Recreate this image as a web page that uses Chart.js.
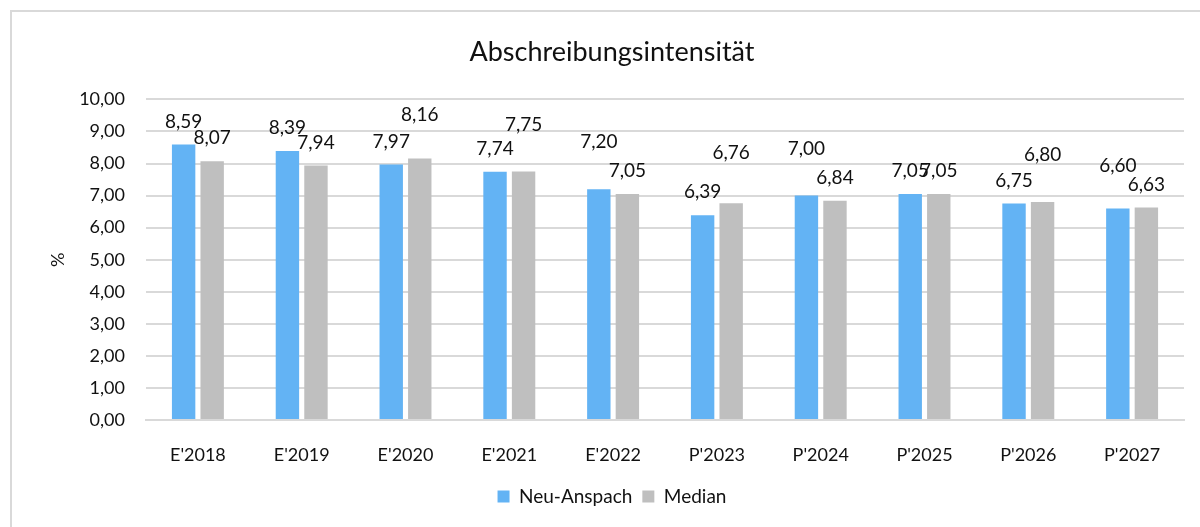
<!DOCTYPE html>
<html>
<head>
<meta charset="utf-8">
<script src="https://cdn.jsdelivr.net/npm/chart.js@4"></script>
<style>
  html, body { margin: 0; padding: 0; background: #fff; }
  #wrap { position: relative; width: 1200px; height: 527px; overflow: hidden; }
  #frame { position: absolute; left: 10px; top: 10px; width: 1300px; height: 600px;
           border-left: 2px solid #d9d9d9; border-top: 2px solid #d9d9d9; box-sizing: border-box; }
  canvas { position: absolute; left: 0; top: 0; }
</style>
</head>
<body>
<div id="wrap">
  <div id="frame"></div>
  <canvas id="chart" width="1200" height="527"></canvas>
</div>
<script>
const years = ["E'2018", "E'2019", "E'2020", "E'2021", "E'2022", "P'2023", "P'2024", "P'2025", "P'2026", "P'2027"];
const neuAnspach = [8.59, 8.39, 7.97, 7.74, 7.20, 6.39, 7.00, 7.05, 6.75, 6.60];
const median = [8.07, 7.94, 8.16, 7.75, 7.05, 6.76, 6.84, 7.05, 6.80, 6.63];
// extra lift (px) of some value labels, as placed in the original
const liftNeu = [0, 0, 0, 0, 24, 0, 24, 0, 0, 20];
const liftMedian = [0, 0, 21, 24, 0, 27, 0, 0, 24, 0];

const FONT = "Lato, 'Open Sans', sans-serif";
const fmt = v => v.toFixed(2).replace(".", ",");

const valueLabels = {
  id: "valueLabels",
  afterDatasetsDraw(chart) {
    const ctx = chart.ctx;
    ctx.save();
    ctx.font = "19px " + FONT;
    ctx.fillStyle = "#111";
    ctx.textAlign = "center";
    ctx.textBaseline = "middle";
    const lifts = [liftNeu, liftMedian];
    chart.data.datasets.forEach((ds, i) => {
      chart.getDatasetMeta(i).data.forEach((bar, j) => {
        ctx.fillText(fmt(ds.data[j]), bar.x, bar.y - 23 - lifts[i][j]);
      });
    });
    ctx.restore();
  }
};

new Chart(document.getElementById("chart").getContext("2d"), {
  type: "bar",
  data: {
    labels: years,
    datasets: [
      { label: "Neu-Anspach", data: neuAnspach, backgroundColor: "#63b3f4" },
      { label: "Median", data: median, backgroundColor: "#bfbfbf" }
    ]
  },
  options: {
    responsive: false,
    animation: false,
    categoryPercentage: 0.55,
    barPercentage: 0.82,
    layout: { padding: { left: 40, right: 16, top: 0, bottom: 11 } },
    plugins: {
      title: {
        display: true,
        text: "Abschreibungsintensität",
        color: "#111",
        font: { family: FONT, size: 27, weight: "normal" },
        padding: { top: 36, bottom: 31 }
      },
      legend: {
        position: "bottom",
        labels: {
          color: "#111",
          font: { family: FONT, size: 19 },
          boxWidth: 12,
          boxHeight: 12,
          padding: 10
        }
      },
      tooltip: { enabled: false }
    },
    scales: {
      x: {
        grid: { display: false },
        border: { display: true, color: "#d9d9d9", width: 2 },
        ticks: { color: "#111", font: { family: FONT, size: 18 }, padding: 16 },
        afterFit: s => { s.height = 57; }
      },
      y: {
        min: 0,
        max: 10,
        ticks: {
          stepSize: 1,
          color: "#111",
          font: { family: FONT, size: 18 },
          padding: 21,
          callback: v => fmt(v)
        },
        grid: { color: "#d9d9d9", lineWidth: 2, drawTicks: false },
        border: { display: false },
        title: {
          display: true,
          text: "%",
          color: "#111",
          font: { family: FONT, size: 18 },
          padding: { top: 7 }
        },
        afterFit: s => { s.width = 106; }
      }
    }
  },
  plugins: [valueLabels]
});
</script>
</body>
</html>
